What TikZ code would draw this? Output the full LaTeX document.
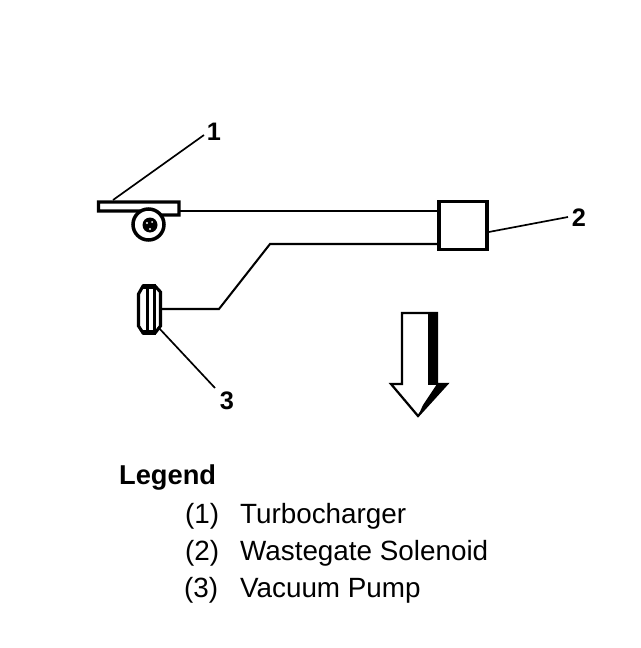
\documentclass[tikz,border=0pt]{standalone}
\usepackage{fontspec}
\setmainfont{Liberation Sans}
\tikzset{
  pipe/.style={line width=2.9pt},
  leader/.style={line width=2.4pt},
  part/.style={draw,line width=4.4pt,fill=white},
  num/.style={font=\fontsize{36}{40}\selectfont\bfseries,inner sep=0pt},
  legend/.style={font=\fontsize{39.6}{44}\selectfont,inner sep=0pt,anchor=base west}
}
\begin{document}
\begin{tikzpicture}[x=0.05cm,y=-0.05cm]
\useasboundingbox (0,0) rectangle (640,648);
% solenoid and its two lines
\node[part,minimum width=2.4cm,minimum height=2.4cm,inner sep=0pt,line width=5pt] (solenoid) at (463,225.5) {};
\coordinate (turboR) at (180,211);
\coordinate (bendA) at (270,244);
\coordinate (bendB) at (219,309);
\coordinate (pumpR) at (160,309);
\draw[pipe] (turboR) -- (turboR -| solenoid.west);
\draw[pipe] (bendA -| solenoid.west) -- (bendA) -- (bendB) -- (pumpR);
% turbocharger
\draw[part] (179,202) -- (98.5,202) -- (98.5,211) -- (140,211) -- (160,215) -- (179,215) -- cycle;
\draw[part,line width=5pt] (148.5,224.5) circle (15.5);
\fill (150,225) circle (7.5);
\fill[white] (147,223) circle (1.2) (152,222) circle (1) (150,229) circle (1.2);
\coordinate (turboT) at (113,200);
% vacuum pump
\draw[part] (143,286) -- (155,286) -- (160.5,292) -- (160.5,326) -- (155,333) -- (143,333)
  -- (138.5,326) -- (138.5,294) -- cycle;
\draw[line width=4.5pt] (147.5,285) -- (147.5,334);
\draw[line width=3pt] (154.5,286) -- (154.5,333);
\fill (143,284) rectangle (156,289);
\fill (143,330) rectangle (156,335);
\coordinate (pumpB) at (158,327);
% numbers and leaders
\node[num] (one) at (214,132) {1};
\node[num] (two) at (579,218) {2};
\node[num] (three) at (227,401) {3};
\draw[leader] (turboT) -- (204,135);
\draw[leader] (solenoid.east |- 0,232) -- (568,217);
\draw[leader] (pumpB) -- (215,388);
% flow arrow
\draw[line width=3.2pt,fill=white] (402,313) -- (437,313) -- (437,384) -- (447,384)
  -- (418,416) -- (391,384) -- (402,384) -- cycle;
\fill (428,312) rectangle (437,385);
\fill (447,384) -- (418,416) -- (423,405) -- (437,384) -- cycle;
% legend
\node[legend,font=\fontsize{38.8}{44}\selectfont\bfseries] (title) at (119,484) {Legend};
\node[legend] (n1) at (185,523) {(1)};
\node[legend] (n2) at (185,560) {(2)};
\node[legend] (n3) at (184,597) {(3)};
\node[legend] (t1) at (240,523) {Turbocharger};
\node[legend] (t2) at (240,560) {Wastegate Solenoid};
\node[legend] (t3) at (240,597) {Vacuum Pump};
\end{tikzpicture}
\end{document}
